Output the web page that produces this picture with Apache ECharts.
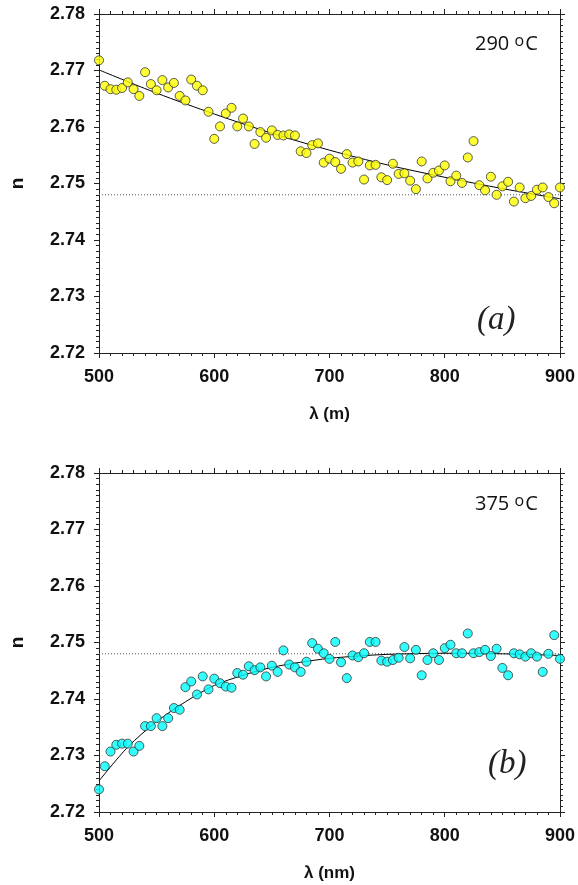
<!DOCTYPE html>
<html>
<head>
<meta charset="utf-8">
<script src="https://cdn.jsdelivr.net/npm/echarts@6/dist/echarts.min.js"></script>
<style>
  html, body { margin: 0; padding: 0; background: #fff; }
  #chart { width: 578px; height: 885px; }
</style>
</head>
<body>
<div id="chart"></div>
<script>
// wavelengths (nm), one reading every 5 nm
const wavelength = [500, 505, 510, 515, 520, 525, 530, 535, 540, 545, 550, 555, 560, 565, 570, 575, 580, 585, 590, 595,
  600, 605, 610, 615, 620, 625, 630, 635, 640, 645, 650, 655, 660, 665, 670, 675, 680, 685, 690, 695,
  700, 705, 710, 715, 720, 725, 730, 735, 740, 745, 750, 755, 760, 765, 770, 775, 780, 785, 790, 795,
  800, 805, 810, 815, 820, 825, 830, 835, 840, 845, 850, 855, 860, 865, 870, 875, 880, 885, 890, 895, 900];

// (a) 290 °C
const n290 = [2.7718, 2.7673, 2.7667, 2.7666, 2.7669, 2.7679, 2.7667, 2.7655, 2.7697, 2.7676, 2.7665, 2.7683, 2.7670, 2.7678, 2.7655, 2.7647, 2.7684, 2.7673, 2.7665, 2.7627,
  2.7579, 2.7601, 2.7624, 2.7634, 2.7601, 2.7615, 2.7601, 2.7570, 2.7591, 2.7581, 2.7594, 2.7586, 2.7585, 2.7587, 2.7585, 2.7557, 2.7554, 2.7568, 2.7571, 2.7537,
  2.7544, 2.7538, 2.7526, 2.7552, 2.7537, 2.7539, 2.7507, 2.7532, 2.7533, 2.7511, 2.7506, 2.7535, 2.7517, 2.7518, 2.7505, 2.7490, 2.7539, 2.7509, 2.7519, 2.7523,
  2.7532, 2.7504, 2.7514, 2.7501, 2.7546, 2.7575, 2.7497, 2.7488, 2.7512, 2.7480, 2.7495, 2.7503, 2.7468, 2.7493, 2.7474, 2.7478, 2.7489, 2.7493, 2.7476, 2.7465, 2.7493];

// (b) 375 °C
const n375 = [2.7240, 2.7281, 2.7307, 2.7319, 2.7321, 2.7321, 2.7307, 2.7317, 2.7352, 2.7352, 2.7366, 2.7352, 2.7366, 2.7384, 2.7381, 2.7421, 2.7431, 2.7408, 2.7440, 2.7417,
  2.7436, 2.7428, 2.7422, 2.7420, 2.7446, 2.7443, 2.7458, 2.7451, 2.7456, 2.7440, 2.7459, 2.7448, 2.7486, 2.7461, 2.7456, 2.7448, 2.7466, 2.7499, 2.7489, 2.7481,
  2.7471, 2.7501, 2.7465, 2.7437, 2.7477, 2.7474, 2.7481, 2.7501, 2.7501, 2.7468, 2.7466, 2.7469, 2.7473, 2.7492, 2.7472, 2.7487, 2.7442, 2.7469, 2.7481, 2.7469,
  2.7490, 2.7496, 2.7481, 2.7481, 2.7516, 2.7481, 2.7483, 2.7487, 2.7476, 2.7489, 2.7455, 2.7442, 2.7481, 2.7479, 2.7475, 2.7481, 2.7475, 2.7448, 2.7480, 2.7513, 2.7471];

// fitted curves
const fitWl290 = [500, 550, 600, 650, 700, 750, 800, 850, 900];
const fit290 = [2.7701, 2.7660, 2.7623, 2.7589, 2.7559, 2.7533, 2.7511, 2.7491, 2.7473];
const fitWl375 = [500, 525, 550, 575, 600, 625, 650, 675, 700, 725, 750, 800, 850, 900];
const fit375 = [2.7255, 2.7315, 2.7360, 2.7395, 2.7424, 2.7442, 2.7456, 2.7465, 2.7472, 2.7476, 2.7479, 2.7481, 2.7480, 2.7477];

// dotted reference level
const refWl = [500, 900];
const refN = 2.748;

const xMin = 500, xMax = 900, xStep = 100;
const yMin = 2.72, yMax = 2.78, yStep = 0.01;

const chart = echarts.init(document.getElementById('chart'));

const axisColor = '#222';
const labelFont = { fontFamily: 'Liberation Sans', fontWeight: 'bold', fontSize: 18, color: '#111' };

function pairs(xs, ys) {
  return xs.map((x, i) => [x, ys[i]]);
}

function xAxes(gridIndex, name) {
  const base = {
    gridIndex: gridIndex, type: 'value', min: xMin, max: xMax, interval: xStep,
    splitLine: { show: false },
    axisLine: { show: true, lineStyle: { color: axisColor, width: 1 } },
    axisTick: { show: true, length: 5, lineStyle: { color: axisColor } },
    minorTick: { show: true, splitNumber: 10, length: 3, lineStyle: { color: axisColor } },
  };
  return [
    Object.assign({}, base, {
      position: 'bottom',
      name: name, nameLocation: 'middle', nameGap: 53,
      nameTextStyle: { fontFamily: 'Liberation Sans', fontWeight: 'bold', fontSize: 17, color: '#111' },
      axisLabel: Object.assign({ margin: 15 }, labelFont),
    }),
    Object.assign({}, base, { position: 'top', axisLabel: { show: false } }),
  ];
}

function yAxes(gridIndex) {
  const base = {
    gridIndex: gridIndex, type: 'value', min: yMin, max: yMax, interval: yStep,
    splitLine: { show: false },
    axisLine: { show: true, lineStyle: { color: axisColor, width: 1 } },
    axisTick: { show: true, length: 5, lineStyle: { color: axisColor } },
    minorTick: { show: true, splitNumber: 10, length: 3, lineStyle: { color: axisColor } },
  };
  return [
    Object.assign({}, base, {
      position: 'left',
      name: 'n', nameLocation: 'middle', nameGap: 72, nameRotate: 90,
      nameTextStyle: { fontFamily: 'Liberation Sans', fontWeight: 'bold', fontSize: 19, color: '#111' },
      axisLabel: Object.assign({ margin: 14, formatter: v => v.toFixed(2) }, labelFont),
    }),
    Object.assign({}, base, { position: 'right', axisLabel: { show: false } }),
  ];
}

function panelSeries(axisIdx, points, fitX, fitY, color) {
  return [
    {
      type: 'line', xAxisIndex: axisIdx, yAxisIndex: axisIdx,
      data: pairs(refWl, [refN, refN]),
      symbol: 'none', silent: true,
      lineStyle: { color: '#555', width: 1, type: [1, 2] },
      z: 1,
    },
    {
      type: 'line', xAxisIndex: axisIdx, yAxisIndex: axisIdx,
      data: pairs(fitX, fitY),
      symbol: 'none', smooth: 0.3,
      lineStyle: { color: '#000', width: 1 },
      z: 2,
    },
    {
      type: 'scatter', xAxisIndex: axisIdx, yAxisIndex: axisIdx,
      data: pairs(wavelength, points),
      symbol: 'circle', symbolSize: 9,
      itemStyle: { color: color, borderColor: '#333', borderWidth: 1 },
      z: 3,
    },
  ];
}

const supRich = { sup: { fontFamily: 'Open Sans', fontSize: 16, verticalAlign: 'top', padding: [0, 1, 7, 0] } };
const tempStyle = { fontFamily: 'Open Sans', fontSize: 20, fill: '#111', rich: supRich };
const tagStyle = { fontFamily: 'Liberation Serif', fontStyle: 'italic', fontSize: 33, fill: '#222' };

chart.setOption({
  animation: false,
  backgroundColor: '#fff',
  grid: [
    { left: 91, top: 14, width: 472, height: 339 },
    { left: 91, top: 473, width: 472, height: 339 },
  ],
  xAxis: [].concat(xAxes(0, 'λ (m)'), xAxes(1, 'λ (nm)')),
  yAxis: [].concat(yAxes(0), yAxes(1)),
  series: [].concat(
    panelSeries(0, n290, fitWl290, fit290, '#ffff00'),
    panelSeries(2, n375, fitWl375, fit375, '#00ffff')
  ),
  graphic: [
    { type: 'text', left: 475, top: 33, style: Object.assign({ text: '290 {sup|o}C' }, tempStyle) },
    { type: 'text', left: 475, top: 493, style: Object.assign({ text: '375 {sup|o}C' }, tempStyle) },
    { type: 'text', left: 477, top: 304, style: Object.assign({ text: '(a)' }, tagStyle) },
    { type: 'text', left: 488, top: 748, style: Object.assign({ text: '(b)' }, tagStyle) },
  ],
});
</script>
</body>
</html>
